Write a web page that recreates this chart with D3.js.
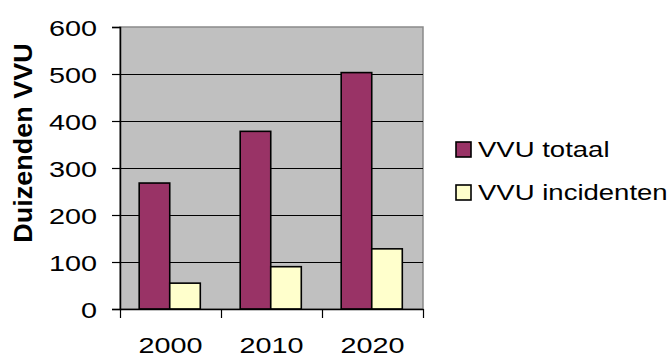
<!DOCTYPE html>
<html>
<head>
<meta charset="utf-8">
<script src="https://cdn.jsdelivr.net/npm/d3@7/dist/d3.min.js"></script>
<style>
  html, body { margin: 0; padding: 0; background: #ffffff; }
  svg { display: block; }
  text { font-family: Arial, "Liberation Sans", sans-serif; fill: #000; }
</style>
</head>
<body>
<svg id="chart" width="669" height="356"></svg>
<script>
// Chart data
const years = ["2000", "2010", "2020"];
const seriesNames = ["VVU totaal", "VVU incidenten"];
const totaal = [268, 378, 503];
const incidenten = [55, 90, 128];
const yTicks = [0, 100, 200, 300, 400, 500, 600];
const yTitle = "Duizenden VVU";
const colors = ["#993366", "#FFFFCC"];

const svg = d3.select("#chart");
const plot = { left: 120, right: 423, top: 27, bottom: 309 };
const textScaleX = 1.28;

const x0 = d3.scaleBand().domain(years).range([plot.left, plot.right]).paddingInner(0).paddingOuter(0);
const bw = x0.bandwidth();
const x1 = d3.scaleBand().domain(seriesNames).range([bw * 0.19, bw * 0.795]).padding(0);
const y = d3.scaleLinear().domain([0, 600]).range([plot.bottom, plot.top]);

// Plot background
svg.append("rect")
  .attr("x", plot.left).attr("y", plot.top)
  .attr("width", plot.right - plot.left).attr("height", plot.bottom - plot.top)
  .attr("fill", "#C0C0C0")
  .attr("stroke", "#8a8a8a").attr("stroke-width", 1.5);

// Horizontal gridlines
svg.append("g")
  .selectAll("line")
  .data(yTicks.filter(t => t > 0 && t < 600))
  .join("line")
  .attr("x1", plot.left).attr("x2", plot.right)
  .attr("y1", d => Math.round(y(d)) + 0.5).attr("y2", d => Math.round(y(d)) + 0.5)
  .attr("stroke", "#000").attr("stroke-width", 1);

// Bars
const seriesData = [totaal, incidenten];
const groups = svg.append("g").selectAll("g")
  .data(years)
  .join("g")
  .attr("transform", d => `translate(${x0(d)},0)`);

groups.selectAll("rect")
  .data((d, i) => seriesNames.map((s, k) => ({ s, v: seriesData[k][i], c: colors[k] })))
  .join("rect")
  .attr("x", d => x1(d.s))
  .attr("width", x1.bandwidth())
  .attr("y", d => y(d.v))
  .attr("height", d => y(0) - y(d.v))
  .attr("fill", d => d.c)
  .attr("stroke", "#000")
  .attr("stroke-width", 1.6);

// Y axis
const yAxis = d3.axisLeft(y).tickValues(yTicks).tickSize(8).tickPadding(0).tickFormat(d3.format("d"));
const gy = svg.append("g").attr("transform", `translate(${plot.left},0)`).call(yAxis);
gy.select(".domain").attr("stroke", "#000").attr("stroke-width", 1.5);
gy.selectAll(".tick line").attr("stroke", "#000").attr("stroke-width", 1.2);
gy.selectAll(".tick text")
  .attr("x", null).attr("dy", null)
  .style("font-size", "22.5px")
  .attr("text-anchor", "end")
  .attr("transform", `translate(-23,8.3) scale(${textScaleX},1)`);

// X axis
const xAxis = d3.axisBottom(x0).tickSize(0).tickPadding(0);
const gx = svg.append("g").attr("transform", `translate(0,${plot.bottom})`).call(xAxis);
gx.select(".domain").attr("stroke", "#000").attr("stroke-width", 1.5);
gx.selectAll(".tick text")
  .attr("y", null).attr("dy", null)
  .style("font-size", "22.5px")
  .attr("text-anchor", "middle")
  .attr("transform", `translate(0,44) scale(${textScaleX},1)`);

// Category separator ticks below the axis
const edges = years.map(d => x0(d)).concat([plot.right]);
gx.append("g").selectAll("line")
  .data(edges)
  .join("line")
  .attr("x1", d => Math.round(d) + 0.5).attr("x2", d => Math.round(d) + 0.5)
  .attr("y1", 0).attr("y2", 9)
  .attr("stroke", "#000").attr("stroke-width", 1.2);

// Y axis title
svg.append("text")
  .attr("transform", "translate(32,143) rotate(-90) scale(1.06,1)")
  .attr("text-anchor", "middle")
  .style("font-size", "25.5px")
  .style("font-weight", "bold")
  .text(yTitle);

// Legend
const legend = svg.append("g").selectAll("g")
  .data(seriesNames)
  .join("g")
  .attr("transform", (d, i) => `translate(456,${142 + i * 43})`);

legend.append("rect")
  .attr("width", 15).attr("height", 15)
  .attr("fill", (d, i) => colors[i])
  .attr("stroke", "#000").attr("stroke-width", 1.6);

legend.append("text")
  .attr("transform", `translate(22,14.5) scale(${textScaleX},1)`)
  .style("font-size", "21.5px")
  .text(d => d);
</script>
</body>
</html>
